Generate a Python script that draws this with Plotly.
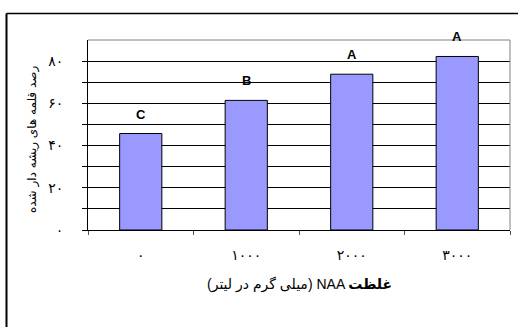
import plotly.graph_objects as go

categories = ["۰", "۱۰۰۰", "۲۰۰۰", "۳۰۰۰"]
values = [45.7, 61.4, 73.8, 82.2]
letters = ["C", "B", "A", "A"]
ytick_vals = [0, 20, 40, 60, 80]
ytick_text = ["۰", "۲۰", "۴۰", "۶۰", "۸۰"]
y_title = "رصد قلمه های ریشه دار شده"
x_title = "(میلی گرم در لیتر) NAA <b>غلظت</b>"

W, H = 518, 327
L, R, T, B = 88, 8, 40, 97
pw, ph = W - L - R, H - T - B

FONT = "Liberation Sans, DejaVu Sans, Arial, sans-serif"

fig = go.Figure()
fig.add_trace(go.Bar(
    x=categories, y=values,
    marker=dict(color="#9999FF", line=dict(color="#000000", width=1)),
    width=0.4,
    hoverinfo="skip",
))

for c, v, t in zip(categories, values, letters):
    fig.add_annotation(x=c, y=v, text=f"<b>{t}</b>", showarrow=False,
                       yanchor="bottom", yshift=10,
                       font=dict(family=FONT, size=13, color="#000"))

grid_vals = list(range(0, 90, 10))
grid_text = [ytick_text[ytick_vals.index(v)] if v in ytick_vals else "" for v in grid_vals]

fig.update_layout(
    width=W, height=H,
    margin=dict(l=L, r=R, t=T, b=B, pad=0),
    paper_bgcolor="white", plot_bgcolor="white",
    showlegend=False,
    bargap=0.6,
    font=dict(family=FONT, size=11, color="#000"),
    xaxis=dict(
        showgrid=False, showline=True, linecolor="#000", linewidth=1,
        ticks="outside", ticklen=4, tickcolor="#555",
        tickson="boundaries",
        tickfont=dict(size=14, family="DejaVu Sans"),
        ticklabelstandoff=12,
        range=[-0.5, 3.5],
    ),
    yaxis=dict(
        range=[0, 90],
        tickvals=grid_vals,
        ticktext=grid_text,
        showgrid=True, gridcolor="#000", gridwidth=1,
        showline=True, linecolor="#000", linewidth=1,
        ticks="outside", ticklen=5, tickcolor="#000",
        zeroline=False,
        tickfont=dict(size=14, family="DejaVu Sans"),
        ticklabelstandoff=16,
    ),
)

# plot area border (top & right, gray)
fig.add_shape(type="line", xref="paper", yref="paper", x0=0, x1=1, y0=1, y1=1,
              line=dict(color="#808080", width=1))
fig.add_shape(type="line", xref="paper", yref="paper", x0=1, x1=1, y0=0, y1=1,
              line=dict(color="#808080", width=1))

# outer chart frame (left and top edges visible)
fx0 = (6.5 - L) / pw
fy1 = 1 + (T - 13.5) / ph
fig.add_shape(type="line", xref="paper", yref="paper", x0=fx0, x1=(W + 5 - L) / pw,
              y0=fy1, y1=fy1, line=dict(color="#000", width=1.5))
fig.add_shape(type="line", xref="paper", yref="paper", x0=fx0, x1=fx0,
              y0=fy1, y1=-(H + 5 - T - ph) / ph - 0.2, line=dict(color="#000", width=2))

# axis titles
fig.add_annotation(xref="paper", yref="paper", x=0, y=0.5, xshift=32 - L, yshift=-5,
                   text=y_title, textangle=-90, showarrow=False,
                   xanchor="center", yanchor="middle",
                   font=dict(family="DejaVu Sans", size=12, color="#000"))
fig.add_annotation(xref="paper", yref="paper", x=0.5, y=0, yshift=-54,
                   text=x_title, showarrow=False, xanchor="center", yanchor="middle",
                   font=dict(family=FONT, size=14, color="#000"))

fig.write_html("out.html")
